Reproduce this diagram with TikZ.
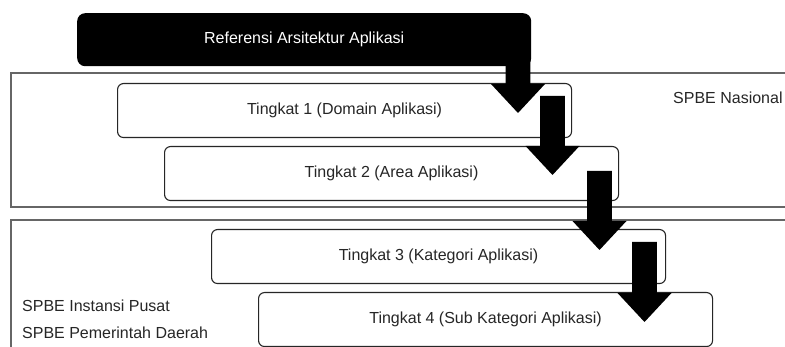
\documentclass[tikz,border=0pt]{standalone}
\usepackage{fontspec}
\setmainfont{Liberation Sans}
\begin{document}
\begin{tikzpicture}[x=1pt,y=-1pt,
  outer/.style={draw=black!60,line width=2pt},
  level/.style={draw=black!85,line width=1.1pt,rounded corners=6pt,fill=white,
    minimum width=454pt,minimum height=54pt,inner sep=0pt,anchor=north west,
    font=\fontsize{16}{19}\selectfont,text=black!85},
  header/.style={fill=black,rounded corners=8pt,minimum width=454pt,minimum height=53pt,
    inner sep=0pt,anchor=north west,text=white,font=\fontsize{16}{19}\selectfont},
  lbl/.style={anchor=west,inner sep=0pt,text=black!85,font=\fontsize{16}{19}\selectfont},
  blockarrow/.style={fill=black}
]
\useasboundingbox (0,0) rectangle (785,347);
\clip (0,0) rectangle (785,347);
\fill[white] (0,0) rectangle (785,347);
% outer groups
\draw[outer] (11,73.5) rectangle (800,207);
\draw[outer] (11,220.5) rectangle (800,360);
\node[lbl] (nas) at (673,98) {SPBE Nasional};
\node[lbl] (pusat) at (22,306) {SPBE Instansi Pusat};
\node[lbl] (daerah) at (22,333) {SPBE Pemerintah Daerah};
% header
\node[header] (ref) at (77,13) {Referensi Arsitektur Aplikasi};
% levels
\node[level] (t1) at (117,83) {Tingkat 1 (Domain Aplikasi)};
\node[level] (t2) at (164,146) {Tingkat 2 (Area Aplikasi)};
\node[level] (t3) at (211,229) {Tingkat 3 (Kategori Aplikasi)};
\node[level] (t4) at (258,292) {Tingkat 4 (Sub Kategori Aplikasi)};
% block arrows: center x, top y, tip y
\newcommand\myblockarrow[3]{%
  \fill[blockarrow] (#1-12.3,#2) -- (#1+12.3,#2) -- (#1+12.3,#3-29) -- (#1+27,#3-29)
    -- (#1,#3) -- (#1-27,#3-29) -- (#1-12.3,#3-29) -- cycle;}
\myblockarrow{518}{40}{113}
\myblockarrow{552.5}{96}{175}
\myblockarrow{599.5}{171}{250}
\myblockarrow{644.5}{242}{322}
\end{tikzpicture}
\end{document}
